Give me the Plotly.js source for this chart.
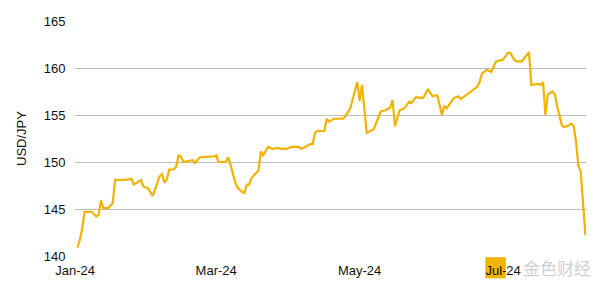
<!DOCTYPE html>
<html>
<head>
<meta charset="utf-8">
<script src="https://cdn.plot.ly/plotly-3.0.1.min.js"></script>
<style>
  html, body { margin: 0; padding: 0; background: #ffffff; }
  #chart { width: 600px; height: 291px; }
</style>
</head>
<body>
<div id="chart"></div>
<script>
// USD/JPY daily rate, Jan - Aug 2024
const dates = [
  '2024-01-02','2024-01-03','2024-01-04','2024-01-05','2024-01-08','2024-01-09','2024-01-10','2024-01-11',
  '2024-01-12','2024-01-13','2024-01-15','2024-01-17','2024-01-18','2024-01-22','2024-01-25','2024-01-26',
  '2024-01-29','2024-01-30','2024-02-01','2024-02-03','2024-02-06','2024-02-07','2024-02-08','2024-02-09',
  '2024-02-10','2024-02-12','2024-02-13','2024-02-14','2024-02-15','2024-02-16','2024-02-19','2024-02-20',
  '2024-02-21','2024-02-23','2024-02-29','2024-03-01','2024-03-02','2024-03-05','2024-03-06','2024-03-07',
  '2024-03-09','2024-03-10','2024-03-12','2024-03-13','2024-03-14','2024-03-15','2024-03-16','2024-03-19',
  '2024-03-20','2024-03-21','2024-03-23','2024-03-25','2024-03-27','2024-03-29','2024-03-31','2024-04-02',
  '2024-04-05','2024-04-06','2024-04-07','2024-04-10','2024-04-11','2024-04-12','2024-04-13','2024-04-16',
  '2024-04-17','2024-04-18','2024-04-20','2024-04-24','2024-04-25','2024-04-27','2024-04-30','2024-05-01',
  '2024-05-02','2024-05-04','2024-05-07','2024-05-10','2024-05-12','2024-05-14','2024-05-15','2024-05-16',
  '2024-05-18','2024-05-20','2024-05-22','2024-05-23','2024-05-25','2024-05-28','2024-05-30','2024-06-01',
  '2024-06-03','2024-06-05','2024-06-06','2024-06-07','2024-06-10','2024-06-12','2024-06-13','2024-06-15',
  '2024-06-20','2024-06-21','2024-06-22','2024-06-24','2024-06-26','2024-06-28','2024-07-01','2024-07-03',
  '2024-07-04','2024-07-06','2024-07-07','2024-07-09','2024-07-10','2024-07-12','2024-07-13','2024-07-16',
  '2024-07-17','2024-07-18','2024-07-19','2024-07-20','2024-07-22','2024-07-23','2024-07-24','2024-07-26',
  '2024-07-27','2024-07-29','2024-07-30','2024-07-31','2024-08-01','2024-08-02','2024-08-03','2024-08-05'
];

const usdJpy = [
  140.9, 141.7, 142.9, 144.7, 144.7, 144.5, 144.2, 144.4,
  145.9, 145.1, 145.1, 145.6, 148.1, 148.1, 148.2, 147.6,
  148.1, 147.4, 147.2, 146.4, 148.5, 148.7, 147.8, 148.1,
  149.2, 149.2, 149.5, 150.7, 150.6, 150.0, 150.1, 150.2,
  149.9, 150.5, 150.6, 150.7, 150.0, 150.0, 150.5, 149.8,
  147.9, 147.3, 146.8, 146.7, 147.6, 147.6, 148.3, 149.1,
  151.1, 150.7, 151.6, 151.4, 151.5, 151.4, 151.4, 151.6,
  151.6, 151.4, 151.5, 151.9, 151.9, 153.1, 153.3, 153.3,
  154.6, 154.3, 154.6, 154.6, 154.9, 155.7, 158.5, 156.5,
  158.2, 153.1, 153.5, 155.4, 155.5, 155.8, 156.6, 153.8,
  155.5, 155.7, 156.4, 156.3, 156.9, 156.8, 157.7, 157.0,
  157.1, 155.0, 156.0, 155.7, 156.8, 157.0, 156.7, 157.1,
  158.0, 158.5, 159.4, 159.8, 159.6, 160.7, 160.9, 161.6,
  161.6, 160.8, 160.7, 160.7, 161.0, 161.7, 158.2, 158.3,
  158.2, 158.5, 155.0, 157.2, 157.5, 157.2, 155.9, 153.9,
  153.7, 153.9, 154.1, 153.8, 152.2, 149.6, 149.0, 142.2
];

const monthTicks = ['2024-01-01', '2024-03-01', '2024-05-01', '2024-07-01'];
const yTicks = [140, 145, 150, 155, 160, 165];
const yTitle = 'USD/JPY';
const siteMark = '金色财经';

const font = { family: '"Liberation Sans", Arial, sans-serif', size: 13, color: '#111111' };

const trace = {
  type: 'scatter',
  mode: 'lines',
  x: dates,
  y: usdJpy,
  line: { color: '#F0B300', width: 2.2 },
  hoverinfo: 'x+y'
};

const layout = {
  width: 600,
  height: 291,
  margin: { l: 75, r: 14, t: 21, b: 35 },
  paper_bgcolor: '#ffffff',
  plot_bgcolor: '#ffffff',
  font: font,
  showlegend: false,
  xaxis: {
    type: 'date',
    range: ['2023-12-31 23:00', '2024-08-05 06:00'],
    tickvals: monthTicks,
    tickformat: '%b-%y',
    showgrid: false,
    zeroline: false,
    showline: false,
    ticks: 'outside',
    ticklen: 2,
    tickcolor: 'rgba(0,0,0,0)',
    tickfont: font
  },
  yaxis: {
    range: [140, 165],
    tickvals: yTicks,
    showgrid: true,
    gridcolor: '#bdbdbd',
    gridwidth: 1,
    zeroline: false,
    showline: false,
    ticks: 'outside',
    ticklen: 6,
    tickcolor: 'rgba(0,0,0,0)',
    tickfont: font,
    title: { text: yTitle, font: font, standoff: 14 }
  },
  shapes: [
    // gold badge of the site mark
    {
      type: 'rect', xref: 'paper', yref: 'paper', layer: 'below',
      x0: 0.803, x1: 0.843, y0: -0.095, y1: -0.005,
      fillcolor: '#F0B300', line: { width: 0 }
    }
  ],
  annotations: [
    {
      text: siteMark, xref: 'paper', yref: 'paper',
      x: 0.873, y: -0.05, xanchor: 'left', yanchor: 'middle',
      showarrow: false,
      font: { family: '"Noto Sans CJK SC", sans-serif', size: 17, color: 'rgba(190,190,190,0.75)' }
    }
  ]
};

Plotly.newPlot('chart', [trace], layout, { displayModeBar: false, staticPlot: true });
</script>
</body>
</html>
